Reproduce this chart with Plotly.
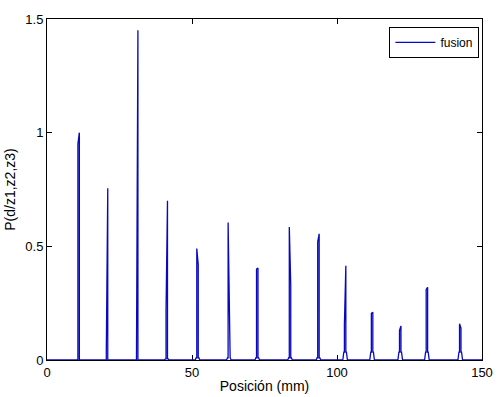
import plotly.graph_objects as go

# Peak data (positions in mm, heights of the two sample lines)
peak_pos = [10.9, 20.7, 31.1, 41.3, 51.9, 62.7, 72.5, 83.8, 93.6, 102.8, 112.1, 121.8, 131.0, 142.5]
peak_left = [0.95, 0.035, 0.01, 0.22, 0.49, 0.605, 0.40, 0.585, 0.52, 0.155, 0.205, 0.13, 0.31, 0.16]
peak_right = [1.00, 0.755, 1.45, 0.70, 0.42, 0.095, 0.405, 0.33, 0.555, 0.415, 0.21, 0.15, 0.32, 0.14]
peak_base = [0.0, 0.0, 0.0, 0.005, 0.01, 0.01, 0.01, 0.01, 0.01, 0.035, 0.035, 0.035, 0.035, 0.035]
x_start, x_end = 0.0, 150.0

xs = [x_start]
ys = [0.0]
for c, hl, hr, b in zip(peak_pos, peak_left, peak_right, peak_base):
    xs += [c - 0.8, c - 0.45, c - 0.25, c - 0.25, c + 0.25, c + 0.25, c + 0.45, c + 0.8]
    ys += [0.0, b, b, hl, hr, b, b, 0.0]
xs.append(x_end)
ys.append(0.0)

fig = go.Figure()
fig.add_trace(go.Scatter(x=xs, y=ys, mode="lines", name="fusion",
                         line=dict(color="#0808c0", width=1.3), showlegend=True))

tick_font = dict(family="Liberation Sans, Arial, sans-serif", size=13, color="black")
title_font = dict(family="Liberation Sans, Arial, sans-serif", size=14, color="black")
legend_font = dict(family="Liberation Sans, Arial, sans-serif", size=12, color="black")
axis_common = dict(showline=True, linecolor="black", linewidth=1, mirror="ticks",
                   ticks="inside", ticklen=5, tickcolor="black", showgrid=False,
                   zeroline=False, tickfont=tick_font, layer="below traces", automargin=False)
fig.update_layout(
    width=499, height=397,
    margin=dict(l=47, r=17, t=19, b=37),
    paper_bgcolor="white", plot_bgcolor="white",
    font=tick_font,
    xaxis=dict(range=[0, 150], tickvals=[0, 50, 100, 150], ticktext=["0", "50", "100", "150"],
               title=dict(text="Posición (mm)", font=title_font, standoff=2), **axis_common),
    yaxis=dict(range=[0, 1.5], tickvals=[0, 0.5, 1, 1.5], ticktext=["0", "0.5", "1", "1.5"],
               title=dict(text="P(d/z1,z2,z3)", font=title_font, standoff=6), **axis_common),
    legend=dict(x=0.994, y=0.977, xanchor="right", yanchor="top",
                bgcolor="white", bordercolor="black", borderwidth=1,
                font=legend_font, itemwidth=40, tracegroupgap=0),
    showlegend=True,
)
fig.write_html("out.html")
